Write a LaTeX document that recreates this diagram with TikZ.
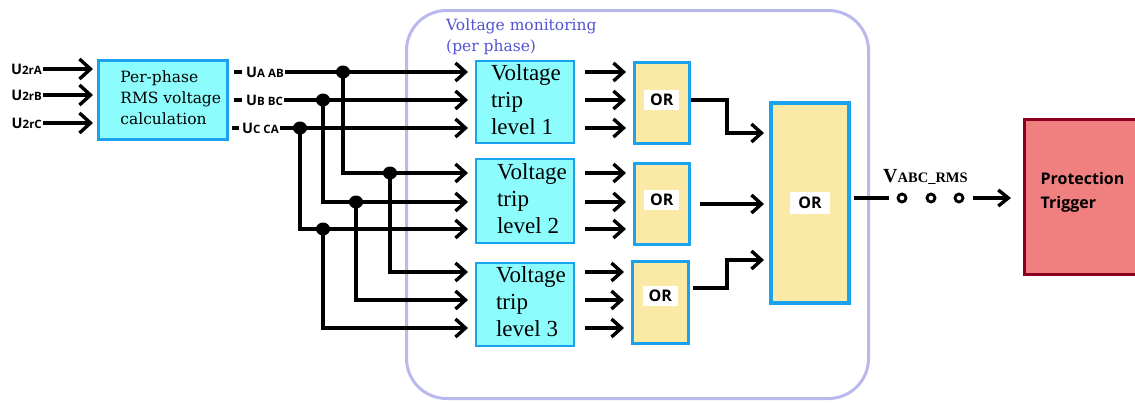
\documentclass[tikz,border=0pt]{standalone}
\usepackage{fontspec}
\setmainfont{Liberation Serif}
\newfontfamily\dvs{DejaVu Serif}
\newfontfamily\osans{Open Sans}
\usetikzlibrary{arrows.meta,shapes.geometric}
\definecolor{cyanfill}{HTML}{8CFCFC}
\definecolor{cyanedge}{HTML}{1AA3EC}
\definecolor{orfill}{HTML}{FBEAA6}
\definecolor{framecol}{HTML}{B9B9EE}
\definecolor{montext}{HTML}{5353D3}
\definecolor{protfill}{HTML}{F08080}
\definecolor{protedge}{HTML}{8A0020}
\newcommand\mylbl[2]{{\osans\bfseries\fontsize{14.5}{14.5}\selectfont #1\fontsize{11.5}{11.5}\selectfont #2}}
\newcommand\mylines[2]{\hspace*{#1}\begin{tabular}{@{}l@{}}#2\end{tabular}}
\tikzset{
  wire/.style={line width=3.4pt},
  arr/.style={wire,-{Straight Barb[length=10pt,width=18pt]},shorten >=7pt},
  bigarr/.style={wire,-{Straight Barb[length=11pt,width=20pt]},shorten >=4pt},
  calcbox/.style={draw=cyanedge,fill=cyanfill,line width=2.5pt,anchor=north west,
    font=\dvs\fontsize{15.5}{21}\selectfont,inner sep=0pt},
  tripbox/.style={draw=cyanedge,fill=cyanfill,line width=2pt,anchor=north west,
    font=\fontsize{23}{27}\selectfont,inner sep=0pt,
    minimum width=98pt},
  orbox/.style={draw=cyanedge,fill=orfill,line width=2.5pt,anchor=north west,inner sep=0pt},
  orlbl/.style={fill=white,font=\osans\bfseries\fontsize{16}{16}\selectfont,inner xsep=6pt,inner ysep=4pt},
  inlbl/.style={anchor=east,inner sep=1pt},
  dot/.style={ellipse,fill=black,inner sep=0pt,minimum width=14pt,minimum height=13pt},
}
\begin{document}
\begin{tikzpicture}[x=1pt,y=-1pt]
\useasboundingbox (0,0) rectangle (1135,402);
% frame
\node[draw=framecol,line width=3pt,rounded corners=40pt,anchor=north west,
  minimum width=462pt,minimum height=388pt,inner sep=0pt] (frame) at (405,9) {};
\node[anchor=base west,text=montext,font=\dvs\fontsize{15.5}{15.5}\selectfont,inner sep=0pt] (mon1) at (446,30) {Voltage monitoring};
\node[anchor=base west,text=montext,font=\dvs\fontsize{15.5}{15.5}\selectfont,inner sep=0pt] (mon2) at (446,51) {(per phase)};

% calc box
\node[calcbox,minimum width=129pt,minimum height=79pt] (calc) at (97,59)
  {\mylines{16pt}{Per-phase\\RMS voltage\\calculation}};
% inputs
\node[inlbl] (ia) at (43,69) {\mylbl{U}{2rA}};
\node[inlbl] (ib) at (43,95) {\mylbl{U}{2rB}};
\node[inlbl] (ic) at (43,123) {\mylbl{U}{2rC}};
\draw[bigarr] (ia.east) -- (calc.west |- ia.east);
\draw[bigarr] (ib.east) -- (calc.west |- ib.east);
\draw[bigarr] (ic.east) -- (calc.west |- ic.east);

% output labels
\node[anchor=west,inner sep=1pt] (oa) at (245,72) {\mylbl{U}{A AB}};
\node[anchor=west,inner sep=1pt] (ob) at (245,100) {\mylbl{U}{B BC}};
\node[anchor=west,inner sep=1pt] (oc) at (241,128) {\mylbl{U}{C CA}};
\draw[wire] ([xshift=5pt]calc.east |- oa.west) -- ([xshift=-3pt]oa.west);
\draw[wire] ([xshift=5pt]calc.east |- ob.west) -- ([xshift=-3pt]ob.west);
\draw[wire] ([xshift=3pt]calc.east |- oc.west) -- ([xshift=-2pt]oc.west);

% trip boxes
\node[tripbox,minimum height=82pt] (t1) at (475,60) {\mylines{2pt}{Voltage\\trip\\level 1}};
\node[tripbox,minimum height=84pt] (t2) at (475,158) {\mylines{14pt}{Voltage\\trip\\level 2}};
\node[tripbox,minimum height=83pt] (t3) at (475,262) {\mylines{12pt}{Voltage\\trip\\level 3}};

% junctions
\coordinate (jA) at (343,72);
\coordinate (jB) at (323,100);
\coordinate (jC) at (300,128);
\coordinate (jA2) at (390,173);
\coordinate (jB2) at (356,202);
\coordinate (jC2) at (323,229);
\coordinate (lA3) at (0,272);
\coordinate (lB3) at (0,300);
\coordinate (lC3) at (0,328);

\draw[arr] (oa.east) -- (t1.west |- jA);
\draw[arr] (ob.east) -- (t1.west |- jB);
\draw[arr] (oc.east) -- (t1.west |- jC);
\draw[arr] (jA) |- (t2.west |- jA2);
\draw[arr] (jB) |- (t2.west |- jB2);
\draw[arr] (jC) |- (t2.west |- jC2);
\draw[arr] (jA2) |- (t3.west |- lA3);
\draw[arr] (jB2) |- (t3.west |- lB3);
\draw[arr] (jC2) |- (t3.west |- lC3);
\foreach \j in {jA,jB,jC,jA2,jB2,jC2} \node[dot] at (\j) {};

% OR boxes
\node[orbox,minimum width=55pt,minimum height=81pt] (or1) at (633,61) {};
\node[orbox,minimum width=55pt,minimum height=81pt] (or2) at (633,162) {};
\node[orbox,minimum width=56pt,minimum height=82pt] (or3) at (631,260) {};
\node[orlbl] (or1l) at ([yshift=2.5pt]or1.center) {OR};
\node[orlbl] (or2l) at ([yshift=4pt]or2.center) {OR};
\node[orlbl] (or3l) at ([yshift=6pt]or3.center) {OR};

\foreach \t/\o/\a/\b/\c in {t1/or1/jA/jB/jC, t2/or2/jA2/jB2/jC2, t3/or3/lA3/lB3/lC3}{
  \draw[arr] ([xshift=10pt]\t.east |- \a) -- (\o.west |- \a);
  \draw[arr] ([xshift=10pt]\t.east |- \b) -- (\o.west |- \b);
  \draw[arr] ([xshift=10pt]\t.east |- \c) -- (\o.west |- \c);
}

% big OR
\node[draw=cyanedge,fill=orfill,line width=4pt,anchor=north west,minimum width=78pt,
  minimum height=200pt,inner sep=0pt] (bigor) at (769,101) {};
\node[orlbl,inner xsep=8pt,inner ysep=5pt] (bigorl) at (bigor.center) {OR};

\coordinate (k1) at (727,133);
\coordinate (k2) at (0,204);
\coordinate (k3s) at (693,288);
\coordinate (k3) at (727,260);
\draw[arr,shorten >=5pt] (or1.east |- 0,100) -| (k1) -- (bigor.west |- k1);
\draw[arr,shorten >=5pt] ([xshift=9pt]or2.east |- k2) -- (bigor.west |- k2);
\draw[arr,shorten >=5pt] (k3s) -| (k3) -- (bigor.west |- k3);

% output
\node[draw=protedge,fill=protfill,line width=3pt,anchor=north west,minimum width=116pt,
  minimum height=155pt,inner sep=0pt,
  font=\osans\bfseries\fontsize{16}{24}\selectfont] (prot) at (1023,118)
  {\raisebox{1pt}[0pt][0pt]{\mylines{0pt}{Protection\\Trigger}}};
\coordinate (d0) at (889,198);
\draw[wire] ([xshift=3pt]bigor.east |- d0) -- (d0);
\foreach \x in {902,931,959} \draw[line width=2.8pt] (\x,198) circle (4pt);
\coordinate (d1) at (973,198);
\draw[wire,-{Straight Barb[length=10pt,width=16pt]},shorten >=12pt] (d1) -- (prot.west |- d1);
\node[anchor=base west,inner sep=0pt,font=\bfseries] (vlbl) at (883,182)
  {{\fontsize{20}{20}\selectfont V}{\fontsize{14.5}{14.5}\selectfont ABC\_RMS}};
\end{tikzpicture}
\end{document}
